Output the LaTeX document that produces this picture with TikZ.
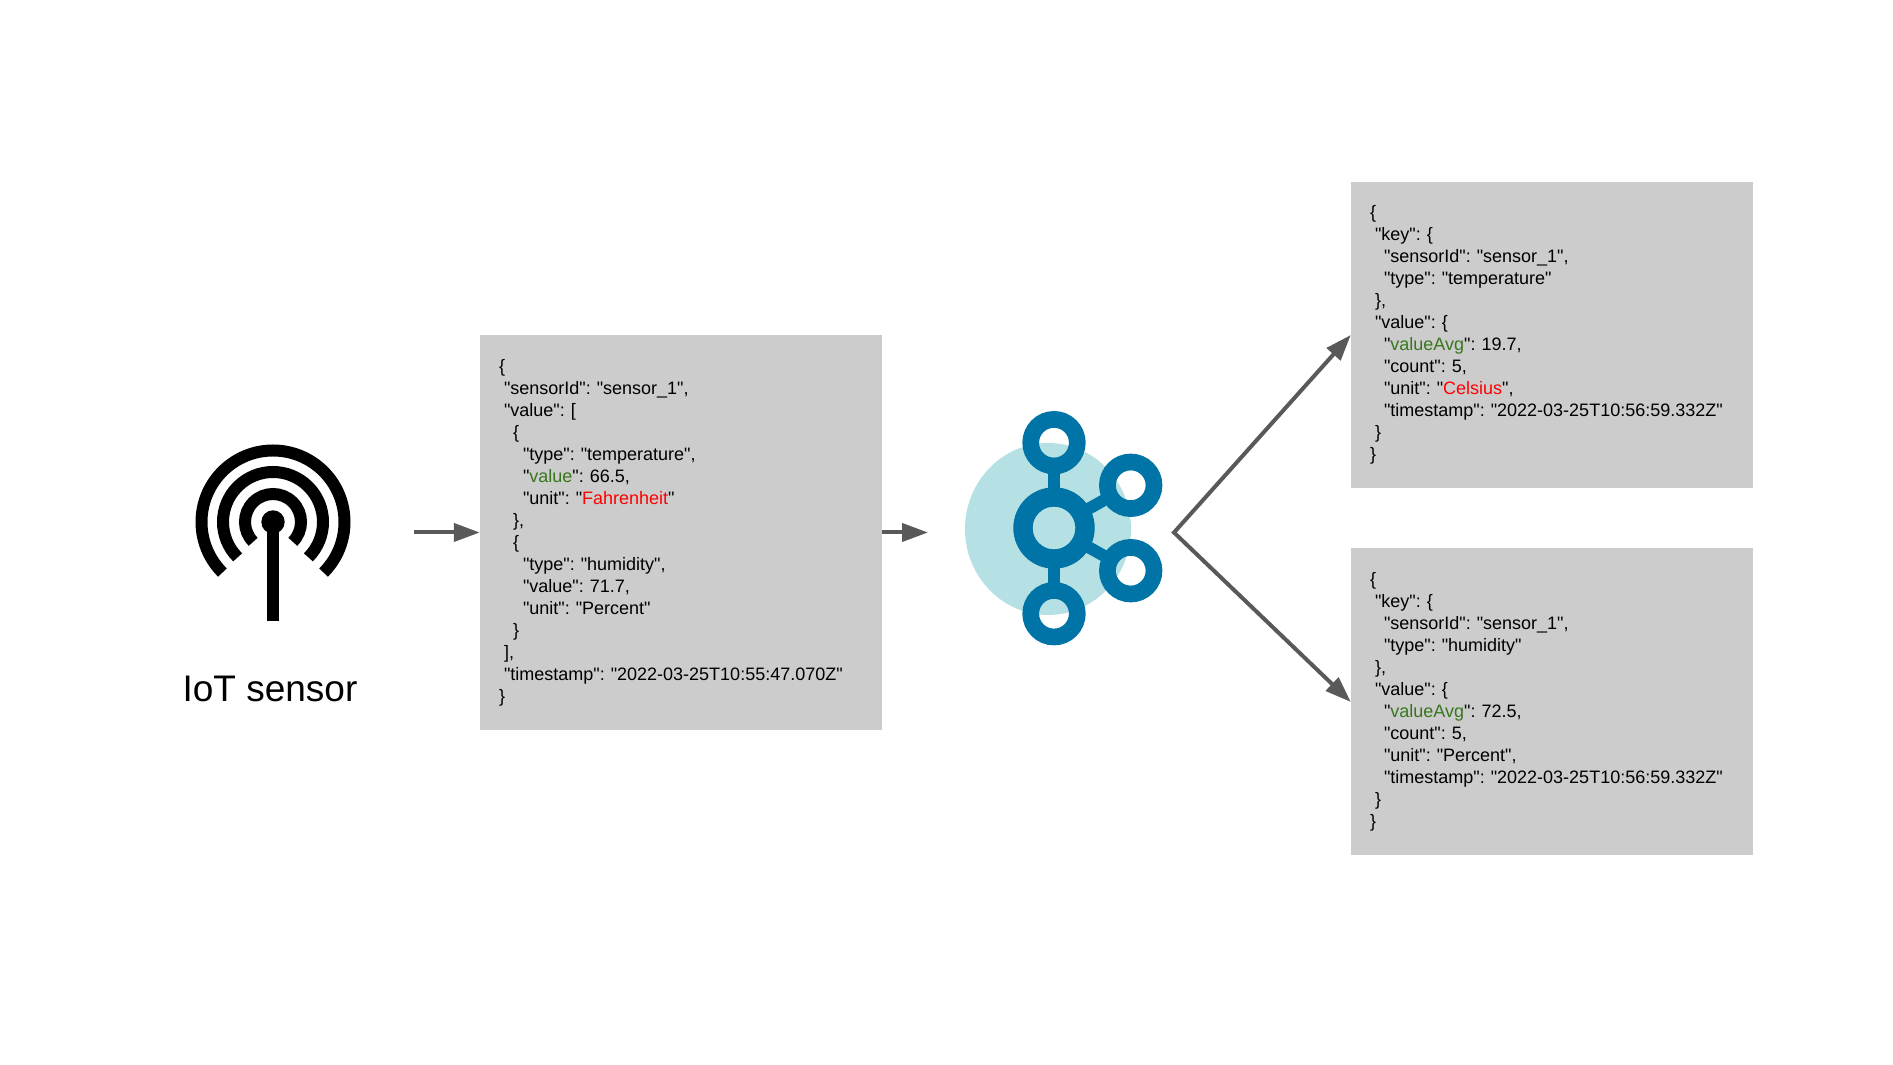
\documentclass[tikz,border=0pt]{standalone}
\usepackage{fontspec}
\setmainfont{Liberation Sans}[Ligatures=TeXOff]
\definecolor{boxgray}{HTML}{CCCCCC}
\definecolor{flowgray}{HTML}{595959}
\definecolor{kafkablue}{HTML}{0074A6}
\definecolor{kafkateal}{HTML}{B5E1E4}
\definecolor{jsongreen}{HTML}{38761D}
\definecolor{jsonred}{HTML}{FF0000}
\newcommand{\lvl}[1]{\hspace*{#1pt}}
\usetikzlibrary{arrows.meta}
\tikzset{
    jsonbox/.style={fill=boxgray, inner xsep=19pt, inner ysep=0pt, text width=364pt, align=left,
        font=\fontsize{18}{22}\selectfont\frenchspacing},
    flow/.style={draw=flowgray, line width=4pt, -{Triangle[length=26pt, width=18pt]}},
    ring/.style={circle, draw=kafkablue, inner sep=0pt, outer sep=0pt},
    smallring/.style={ring, line width=16.7pt, minimum size=46.6pt},
    spoke/.style={draw=kafkablue, line width=12pt},
    wave/.style={draw=black, line width=12pt}
}
\begin{document}
\begin{tikzpicture}[x=1pt, y=1pt]
    \useasboundingbox (0,0) rectangle (1893,1065);

    % Sensor icon
    \foreach \r in {28, 50, 71.5} {
        \draw[wave] (273,543) ++(225:\r) arc (225:-45:\r);
    }
    \fill[black] (273,543) circle (11.7);
    \fill[black] (267.2,543) rectangle (278.8,444);
    \node[font=\fontsize{37}{40}\selectfont, anchor=base] (sensor) at (270,363) {IoT sensor};

    % Incoming reading
    \node[jsonbox, minimum height=395pt] (reading) at (681,532.5) {%
        \{\\
        \lvl{5}"sensorId": "sensor\_1",\\
        \lvl{5}"value": [\\
        \lvl{14}\{\\
        \lvl{24}"type": "temperature",\\
        \lvl{24}"{\color{jsongreen}value}": 66.5,\\
        \lvl{24}"unit": "{\color{jsonred}Fahrenheit}"\\
        \lvl{14}\},\\
        \lvl{14}\{\\
        \lvl{24}"type": "humidity",\\
        \lvl{24}"value": 71.7,\\
        \lvl{24}"unit": "Percent"\\
        \lvl{14}\}\\
        \lvl{5}],\\
        \lvl{5}"timestamp": "2022-03-25T10:55:47.070Z"\\
        \}};

    % Aggregated temperature
    \node[jsonbox, minimum height=306pt] (avgtemp) at (1552,730) {%
        \{\\
        \lvl{5}"key": \{\\
        \lvl{14}"sensorId": "sensor\_1",\\
        \lvl{14}"type": "temperature"\\
        \lvl{5}\},\\
        \lvl{5}"value": \{\\
        \lvl{14}"{\color{jsongreen}valueAvg}": 19.7,\\
        \lvl{14}"count": 5,\\
        \lvl{14}"unit": "{\color{jsonred}Celsius}",\\
        \lvl{14}"timestamp": "2022-03-25T10:56:59.332Z"\\
        \lvl{5}\}\\
        \}};

    % Aggregated humidity
    \node[jsonbox, minimum height=307pt] (avghum) at (1552,363) {%
        \{\\
        \lvl{5}"key": \{\\
        \lvl{14}"sensorId": "sensor\_1",\\
        \lvl{14}"type": "humidity"\\
        \lvl{5}\},\\
        \lvl{5}"value": \{\\
        \lvl{14}"{\color{jsongreen}valueAvg}": 72.5,\\
        \lvl{14}"count": 5,\\
        \lvl{14}"unit": "Percent",\\
        \lvl{14}"timestamp": "2022-03-25T10:56:59.332Z"\\
        \lvl{5}\}\\
        \}};

    % Kafka logo
    \fill[kafkateal] (1048,536) ellipse (83 and 86);
    \node[ring, line width=19.4pt, minimum size=62pt] (hub) at (1054,537) {};
    \node[smallring] (ringtop) at (1054,622.3) {};
    \node[smallring] (ringbottom) at (1054,451.3) {};
    \node[smallring] (ringupper) at (1130.7,579.7) {};
    \node[smallring] (ringlower) at (1130.7,494.3) {};
    \foreach \rr in {ringtop, ringbottom, ringupper, ringlower} {
        \draw[spoke] (hub) -- (\rr);
    }

    % Arrows
    \coordinate (sensorout) at (414,532.5);
    \coordinate (topicin) at (928,532.5);
    \coordinate (fork) at (1174,532.5);
    \draw[flow] (sensorout) -- (reading.west);
    \draw[flow] (reading.east) -- (topicin);
    \draw[flow, {Triangle[length=26pt, width=18pt]}-{Triangle[length=26pt, width=18pt]}] (avgtemp.west) -- (fork) -- (avghum.west);
\end{tikzpicture}
\end{document}
